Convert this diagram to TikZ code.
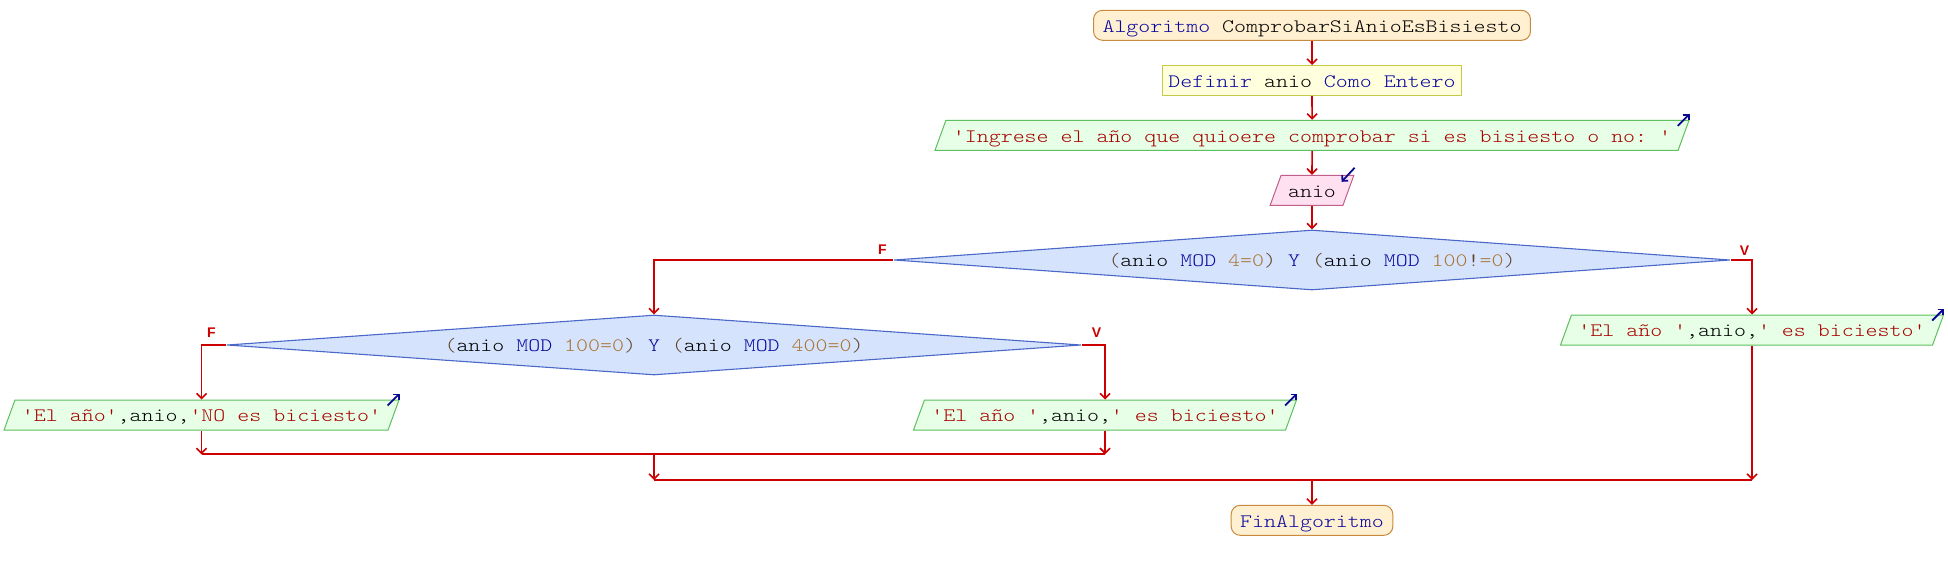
\documentclass[tikz,border=0pt]{standalone}
\usepackage{fontspec}
\setmonofont{lmmonolt10-regular.otf}[FakeStretch=1.2]
\newfontfamily\lblfont{Liberation Sans}
\usetikzlibrary{shapes.geometric,arrows.meta}
\definecolor{termF}{HTML}{FFF0D2}
\definecolor{termB}{HTML}{C88A3C}
\definecolor{defF}{HTML}{FFFFDD}
\definecolor{defB}{HTML}{C8C84A}
\definecolor{outF}{HTML}{E6FFE6}
\definecolor{outB}{HTML}{5DBF5D}
\definecolor{inF}{HTML}{FFE0F0}
\definecolor{inB}{HTML}{C0608A}
\definecolor{diaF}{HTML}{D6E3FC}
\definecolor{diaB}{HTML}{4A68C8}
\definecolor{connc}{HTML}{CC0000}
\definecolor{kw}{HTML}{0808A0}
\definecolor{str}{HTML}{A80000}
\definecolor{num}{HTML}{A87430}
\definecolor{op}{HTML}{604828}
\definecolor{ioc}{HTML}{0A0A90}
\begin{document}
\begin{tikzpicture}[x=1pt,y=-1pt,
  code/.style={font=\ttfamily\fontsize{19}{19}\selectfont, text height=14pt, text depth=0.6pt, inner ysep=7.7pt, line width=1pt},
  term/.style={code, draw=termB, fill=termF, rounded corners=9pt, inner xsep=9pt},
  defbox/.style={code, draw=defB, fill=defF, inner xsep=6pt},
  para/.style={code, trapezium, trapezium left angle=70, trapezium right angle=110, inner xsep=7pt},
  outp/.style={para, draw=outB, fill=outF},
  inp/.style={para, draw=inB, fill=inF},
  dia/.style={code, diamond, draw=diaB, fill=diaF, inner sep=0pt, shape aspect=14, line width=1.1pt},
  conn/.style={draw=connc, line width=1.6pt, -{Straight Barb[length=5pt,width=10pt]}},
  merge/.style={draw=connc, line width=2.2pt},
  lbl/.style={font=\lblfont\bfseries\fontsize{14}{14}\selectfont, text=connc, inner sep=0pt},
  ioarrow/.style={draw=ioc, line width=1.8pt, -{Straight Barb[length=4pt,width=8pt]}}
]
\useasboundingbox (0,0) rectangle (1948,570);

\node[term] (start) at (1312,25.3) {\textcolor{kw}{Algoritmo} ComprobarSiAnioEsBisiesto};
\node[defbox] (def) at (1312,80.5) {\textcolor{kw}{Definir} anio \textcolor{kw}{Como Entero}};
\node[outp] (o1) at (1312,135.3) {\textcolor{str}{'Ingrese el año que quioere comprobar si es bisiesto o no: '}};
\node[inp] (in) at (1312,190.3) {anio};
\node[dia, minimum width=836pt, minimum height=60pt] (d1) at (1312,260)
  {\textcolor{op}{(}anio \textcolor{kw}{MOD} \textcolor{num}{4=0}\textcolor{op}{)} \textcolor{kw}{Y} \textcolor{op}{(}anio \textcolor{kw}{MOD} \textcolor{num}{100}\textcolor{op}{!}\textcolor{num}{=0}\textcolor{op}{)}};
\node[dia, minimum width=854pt, minimum height=60pt] (d2) at (654,345)
  {\textcolor{op}{(}anio \textcolor{kw}{MOD} \textcolor{num}{100=0}\textcolor{op}{)} \textcolor{kw}{Y} \textcolor{op}{(}anio \textcolor{kw}{MOD} \textcolor{num}{400=0}\textcolor{op}{)}};
\node[outp] (o4) at (1752,330) {\textcolor{str}{'El año '},anio,\textcolor{str}{' es biciesto'}};
\node[outp] (o2) at (201.5,415) {\textcolor{str}{'El año'},anio,\textcolor{str}{'NO es biciesto'}};
\node[outp] (o3) at (1105,415) {\textcolor{str}{'El año '},anio,\textcolor{str}{' es biciesto'}};
\node[term] (fin) at (1312,520.3) {\textcolor{kw}{FinAlgoritmo}};

% branch labels
\node[lbl] (f1) at ([xshift=-11pt,yshift=10pt]d1.west) {F};
\node[lbl] (v1) at ([xshift=14pt,yshift=9pt]d1.east) {V};
\node[lbl] (f2) at ([xshift=-15pt,yshift=12pt]d2.west) {F};
\node[lbl] (v2) at ([xshift=15pt,yshift=12pt]d2.east) {V};

% io indicators
\draw[ioarrow] ([xshift=-12pt,yshift=-6pt]o1.top right corner) -- ([yshift=6pt]o1.top right corner);
\draw[ioarrow] ([xshift=-12pt,yshift=-6pt]o2.top right corner) -- ([yshift=6pt]o2.top right corner);
\draw[ioarrow] ([xshift=-12pt,yshift=-6pt]o3.top right corner) -- ([yshift=6pt]o3.top right corner);
\draw[ioarrow] ([xshift=-12pt,yshift=-6pt]o4.top right corner) -- ([yshift=6pt]o4.top right corner);
\draw[ioarrow] ([yshift=7pt]in.top right corner) -- ([xshift=-13pt,yshift=-7pt]in.top right corner);

% connectors
\draw[conn] (start.south) -- (def.north);
\draw[conn] (def.south) -- (o1.north);
\draw[conn] (o1.south) -- (in.north);
\draw[conn] (in.south) -- (d1.north);
\draw[conn] (d1.west) -| (d2.north);
\draw[conn] (d1.east) -| (o4.north);
\draw[conn] (d2.west) -| (o2.north);
\draw[conn] (d2.east) -| (o3.north);

\coordinate (j1) at (654,454.3);
\coordinate (j2) at (1312,480);
\draw[merge] (o2.south |- j1) -- (o3.south |- j1);
\draw[merge] (j1 |- j2) -- (o4.south |- j2);
\draw[conn] (o2.south) -- (o2.south |- j1);
\draw[conn] (o3.south) -- (o3.south |- j1);
\draw[conn] (j1) -- (j1 |- j2);
\draw[conn] (o4.south) -- (o4.south |- j2);
\draw[conn] (j2) -- (fin.north);
\end{tikzpicture}
\end{document}
